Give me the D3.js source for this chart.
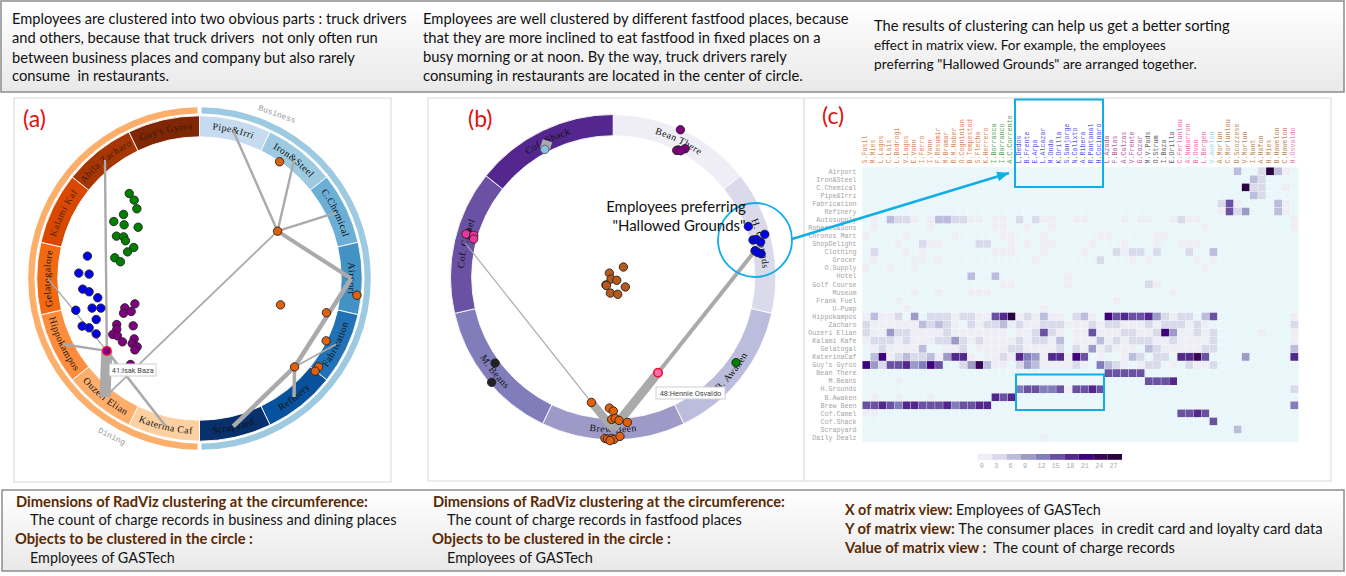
<!DOCTYPE html><html><head><meta charset="utf-8"><script src="https://cdn.jsdelivr.net/npm/d3@7"></script><style>html,body{margin:0;background:#fff}svg{display:block}</style></head><body><svg id="c" width="1346" height="576"></svg><script>
// ---------- data ----------
const businessPlaces=["Pipe&Irri","Iron&Steel","C.Chemical","Airport","Fabrication","Refinery","Scrapyard"];
const diningPlaces=["Katerina Caf","Ouzeri Elian","Hippokampos","Gelatogalore","Kalami Kaf","Abila Zacharo","Guy's Gyros"];
const fastfoodPlaces=["Bean There","H. Grounds","B. Awaken","Brew Been","M. Beans","Cof. Camel","Cof. Shack"];

const aGreen=[[-.496,.6],[-.461,.553],[-.442,.492],[-.536,.452],[-.605,.402],[-.532,.379],[-.433,.362],[-.586,.299],[-.536,.294],[-.522,.266],[-.464,.219],[-.508,.188],[-.598,.146],[-.558,.118]];
const aBlue=[[-.791,.158],[-.852,.038],[-.779,.031],[-.824,-.075],[-.779,-.094],[-.718,-.136],[-.873,-.224],[-.758,-.209],[-.696,-.209],[-.729,-.289],[-.828,-.336],[-.779,-.348],[-.729,-.391]];
const aPurple=[[-.487,-.607],[-.456,-.179],[-.527,-.207],[-.482,-.233],[-.536,-.245],[-.584,-.325],[-.468,-.334],[-.584,-.36],[-.612,-.395],[-.579,-.405],[-.544,-.447],[-.461,-.426],[-.475,-.459],[-.44,-.482],[-.456,-.504]];
const aOrange=[[.565,.824],[.551,.334],[1.111,-.118],[.572,-.186],[.896,-.242],[.894,-.44],[.671,-.624],[.84,-.624],[.816,-.654]];
const aSelected=[-.654,-.511];
const aLinks=[ // from point, to place index on the ring (0-13), weight
 [[.551,.334],0,2.4],[[.551,.334],1,2.4],[[.551,.334],2,2.4],[[.551,.334],3,4],[[.551,.334],8,1.8],
 [[.671,-.624],3,4.5],[[.671,-.624],4,1.8],[[.671,-.624],5,3.5],[[.671,-.624],6,4.5],
 [aSelected,12,2.4],[aSelected,10,1.3],[aSelected,9,2.4],[aSelected,8,11],[aSelected,7,2.6]];

const bPurple=[[.475,1.042],[.461,.899],[.508,.908],[.449,.896],[.477,.894]];
const bSky=[[-.484,.903]];
const bDark=[[-.835,-.607],[-.859,-.743],[-1.025,.31]];
const bPink=[[-1.04,.305],[-.986,.296],[-.986,.27]];
const bBlue=[[.955,.359],[1.071,.303],[.988,.263],[1.012,.267],[1.042,.249],[1.002,.187],[1.045,.166],[1.021,.175]];
const bBrown=[[.072,.072],[-.027,.029],[-.015,-.013],[.025,-.022],[-.051,-.055],[.086,-.069],[-.02,-.112],[.032,-.121],[-.048,-.058]];
const bGreen=[[.868,-.604]];
const bOrange=[[-.154,-.885],[-.027,-.925],[.001,-.946],[-.011,-1.005],[.015,-.998],[.041,-1.012],[.1,-1.026],[-.058,-1.139],[-.041,-1.144],[-.011,-1.139],[.006,-1.146],[-.022,-1.155],[.048,-1.125]];
const bSelected=[.317,-.675];
const bLinks=[[bSelected,1,4],[bSelected,3,9],[[-.154,-.885],5,1.2],[[-.154,-.885],3,8],[[-.484,.903],6,10]];

const colLabels=["S.Fusil","M.Mies","L.Lagos","C.Lais","L.Bodrogi","V.Lagos","E.Vann","I.Ferro","I.Vann","F.Resumir","M.Bramar","R.M.Haber","O.Cogninian","B.Tempestad","S.Flecha","K.Herrero","I.Borrasca","I.Barranco","A.C.Corrente","L.Dedos","B.Frente","E.Arpa","L.Alcazar","M.Onda","K.Orilla","S.Sanjorge","N.Calixto","A.Ribera","R.Pantanal","H.Cocinaro","L.Azada","F.Balas","A.Calzas","V.Frente","G.Cazar","M.V.Pads","O.Strum","I.Baza","E.Orilla","C.Ferlunlau","A.Nubarron","B.Ovan","L.Bergen","V.Awelon","A.Morlun","C.Morlunlau","D.Scozzese","V.Morlun","I.Nant","A.Hafon","H.Mies","B.Hawelon","C.Hawelon","H.Osvaldo"];
const colGroups=[[16,"#e08a55"],[3,"#55a855"],[11,"#5a5af0"],[5,"#b45aa8"],[4,"#666"],[4,"#f070ae"],[1,"#a8d4ea"],[9,"#c48a58"],[1,"#ee7fb8"]];
const rowLabels=["Airport","Iron&Steel","C.Chemical","Pipe&Irri","Fabrication","Refinery","Autosupply","Roberts&Sons","Chronos Mart","ShopDelight","Clothing","Grocer","O.Supply","Hotel","Golf Course","Museum","Frank Fuel","U-Pump","Hippokampos","Zacharo","Ouzeri Elian","Kalami Kafe","Gelatogal","KaterinaCaf","Guy's Gyros","Bean There","M.Beans","H.Grounds","B.Awaken","Brew Been","Cof.Camel","Cof.Shack","Scrapyard","Daily Dealz"];

const denseHippokampos=[1,6,1,1,3,0,9,0,3,3,3,1,3,3,1,1,15,18,27,1,3,1,6,1,1,0,3,6,1,0,21,15,18,15,15,18,9,3,1,3,3,0,6,15,0,0,0,0,0,0,0,0,0,1];
const denseZacharo=[3,1,1,1,1,1,1,6,3,6,3,1,0,3,1,3,3,6,1,3,1,1,3,3,3,1,1,1,3,1,3,3,1,1,1,3,1,3,3,3,1,3,1,0,0,0,0,0,0,0,0,0,0,3];
const denseOuzeri=[3,1,1,9,3,3,1,1,1,1,3,1,1,1,1,1,1,1,0,1,1,3,15,3,1,0,1,1,15,1,1,1,3,3,1,1,3,21,9,1,1,3,1,3,0,0,0,0,0,1,0,0,0,1];
const denseKalami=[1,3,3,3,1,3,1,1,1,3,3,9,3,1,3,1,1,1,1,3,1,3,3,1,6,0,1,1,1,6,1,3,1,3,3,3,1,1,3,1,1,1,1,3,0,0,0,0,0,0,0,0,0,1];
const denseGelato=[0,1,3,1,1,1,1,6,0,0,1,1,3,0,1,1,1,1,3,3,1,1,1,1,3,0,3,1,9,1,3,1,1,1,0,6,3,1,1,1,1,1,3,3,0,0,0,0,0,0,0,0,0,6];
const denseKaterina=[0,6,21,1,3,6,3,3,6,1,9,18,18,1,0,1,1,3,1,18,12,9,1,18,18,1,21,15,0,1,0,0,1,6,3,0,3,3,0,18,18,24,15,0,0,0,0,9,0,0,0,0,0,18];
const denseGuys=[21,9,3,15,15,18,9,12,21,15,0,0,3,9,24,6,1,1,0,3,9,6,1,1,1,1,3,1,0,12,6,3,1,0,1,3,3,0,1,0,3,1,1,3,0,0,0,0,0,0,0,0,0,0];
const denseRows=[[18,denseHippokampos],[19,denseZacharo],[20,denseOuzeri],[21,denseKalami],[22,denseGelato],[23,denseKaterina],[24,denseGuys]];
const sparseRows=[
 [0,[[46,6],[49,3],[50,27],[51,6],[52,1]]],
 [1,[[48,6],[49,3]]],
 [2,[[47,27],[48,3],[49,3],[52,1]]],
 [3,[[48,6],[49,3]]],
 [4,[[44,3],[45,15],[46,1],[51,6],[52,1]]],
 [5,[[44,1],[45,15],[46,3],[47,9],[51,6],[52,1]]],
 [6,[[1,1],[3,6],[4,3],[5,3],[6,1],[8,1],[9,6],[10,6],[11,3],[12,3],[13,1],[14,1],[16,1],[17,1],[19,3],[21,3],[22,1],[23,1],[26,1],[27,1],[32,1],[34,1],[35,1],[38,1],[39,3],[40,1],[41,1],[53,1]]],
 [7,[[1,1],[8,1],[16,1],[17,1],[20,1],[23,1],[42,1],[53,1]]],
 [8,[[0,1],[5,1],[11,1],[17,1],[18,1],[22,1],[29,1],[30,1],[36,1],[37,1]]],
 [9,[[4,1],[7,3],[8,1],[9,1],[14,3],[15,3],[18,1],[20,1],[22,1],[23,1],[28,1],[32,1],[36,1],[39,1],[40,1],[41,1]]],
 [10,[[1,3],[5,1],[7,1],[16,1],[17,1],[18,1],[22,1],[27,1],[31,3],[32,1],[33,3],[34,3],[36,3],[40,3],[43,6]]],
 [11,[[1,1],[6,1],[7,1],[9,1],[21,1],[29,3],[33,1],[35,1],[41,1],[43,1]]],
 [12,[[0,1],[3,1],[6,1],[42,1]]],
 [13,[[13,6],[16,6],[25,1]]],
 [14,[[17,1],[18,1],[25,1],[35,3],[36,1]]],
 [15,[[6,1],[9,1],[13,1],[14,1],[15,1],[38,1]]],
 [16,[[4,1],[31,1]]],
 [17,[[5,1],[22,1]]],
 [25,[[30,15],[31,15],[32,15],[33,15],[34,15]]],
 [26,[[4,1],[35,15],[36,15],[37,15],[38,18]]],
 [27,[[19,12],[20,15],[21,15],[22,12],[23,12],[24,15],[25,1],[26,15],[27,15],[28,18],[29,15],[53,3]]],
 [28,[[1,1],[4,1],[8,1],[16,18],[17,15],[18,18]]],
 [29,[[0,15],[1,15],[2,18],[3,15],[4,12],[5,18],[6,18],[7,15],[8,15],[9,15],[10,18],[11,12],[12,15],[13,15],[14,18],[15,18],[53,12]]],
 [30,[[0,1],[1,1],[39,15],[40,15],[41,18],[42,15]]],
 [31,[[43,15]]],
 [32,[[46,6]]],
 [33,[[22,1]]]];
const legendTicks=[0,3,6,9,12,15,18,21,24,27];
const legendColors=["#efedf5","#dadaeb","#bcbddc","#9e9ac8","#807dba","#6a51a3","#54278f","#3f007d","#3a0558","#2a0440"];

const topNotes=[
 ["Employees are clustered into two obvious parts : truck drivers",12,24,395],
 ["and others, because that truck drivers  not only often run",12,43,366],
 ["between business places and company but also rarely",12,62.5,343],
 ["consume  in restaurants.",12,81,157],
 ["Employees are well clustered by different fastfood places, because",423,23.5,426],
 ["that they are more inclined to eat fastfood in fixed places on a",423,42.5,398],
 ["busy morning or at noon. By the way, truck drivers rarely",423,62,364],
 ["consuming in restaurants are located in the center of circle.",423,81,380],
 ["The results of clustering can help us get a better sorting",874,31,356],
 ["effect in matrix view. For example, the employees",874,50,292],
 ["preferring \"Hallowed Grounds\" are arranged together.",874,69,323]];
const bottomNotes=[
 ["Dimensions of RadViz clustering at the circumference:","",16,506.5,352],
 ["","The count of charge records in business and dining places",30,525,367],
 ["Objects to be clustered in the circle :","",15,544,238],
 ["","Employees of GASTech",30,563,145],
 ["Dimensions of RadViz clustering at the circumference:","",433,506.5,352],
 ["","The count of charge records in fastfood places",447,525,295],
 ["Objects to be clustered in the circle :","",432,544,239],
 ["","Employees of GASTech",447,563,146],
 ["X of matrix view: ","Employees of GASTech",845,515,256],
 ["Y of matrix view: ","The consumer places  in credit card and loyalty card data",845,534,478],
 ["Value of matrix view : "," The count of charge records",845,553,330]];

// ---------- page ----------
const svg=d3.select('#c');
const defs=svg.append('defs');
const grad=defs.append('linearGradient').attr('id','g').attr('x2',0).attr('y2',1);
grad.append('stop').attr('offset',0).attr('stop-color','#fff');
grad.append('stop').attr('offset',1).attr('stop-color','#e9e9e9');
const SANS="Lato,'Open Sans',sans-serif", MONO="'Liberation Mono',monospace", SERIF="'Liberation Serif',serif";
const box=(x,y,w,h,stroke,fill,sw)=>svg.append('rect').attr('x',x).attr('y',y).attr('width',w).attr('height',h).attr('fill',fill).attr('stroke',stroke).attr('stroke-width',sw);
box(1,1,1343,91,'#8c8c8c','url(#g)',1.5);
box(2,490,1342,81,'#8c8c8c','url(#g)',1.5);
box(14,98,377,384,'#e6e6e6','#fff',1.5);
box(428,98,376,383,'#e6e6e6','#fff',1.5);
box(804,98,527,383,'#e6e6e6','#fff',1.5);

function fit(t,w){const base=15;t.attr('font-size',base);const m=t.node().getComputedTextLength();t.attr('font-size',base*w/m);}
topNotes.forEach(([s,x,y,w])=>{fit(svg.append('text').style('white-space','pre').attr('x',x).attr('y',y).attr('font-family',SANS).attr('fill','#111').text(s),w);});
bottomNotes.forEach(([h,s,x,y,w])=>{
 const t=svg.append('text').style('white-space','pre').attr('x',x).attr('y',y).attr('font-family',SANS);
 if(h)t.append('tspan').attr('fill','#5a2a05').attr('font-weight',700).text(h);
 if(s)t.append('tspan').attr('fill','#151515').text(s);
 fit(t,w);
});

// ---------- RadViz ----------
let uid=0;
function radviz(o){
 const {cx,cy,r0,r1,places,colors,pointSets,links}=o;
 const g=svg.append('g').attr('transform',`translate(${cx},${cy})`);
 const px=d3.scaleLinear().domain([-1,1]).range([-r0,r0]);
 const py=d3.scaleLinear().domain([-1,1]).range([r0,-r0]);
 const pie=d3.pie().value(1).sort(null)(places);
 const arc=d3.arc().innerRadius(r0).outerRadius(r1);
 g.selectAll('path.seg').data(pie).join('path').attr('class','seg').attr('d',arc).attr('fill',(d,i)=>colors[i]).attr('stroke','#fff').attr('stroke-width',.9);
 pie.forEach((d,i)=>{
  const mid=(d.startAngle+d.endAngle)/2, flip=mid>Math.PI/2+.01&&mid<3*Math.PI/2-.01, id='seg'+(uid++);
  const rr=flip?(r0+r1)/2+3.2:(r0+r1)/2-2.8;
  const P=d3.path();
  if(!flip)P.arc(0,0,rr,d.startAngle-Math.PI/2,d.endAngle-Math.PI/2,false);
  else P.arc(0,0,rr,d.endAngle-Math.PI/2,d.startAngle-Math.PI/2,true);
  defs.append('path').attr('id',id).attr('d',P.toString());
  g.append('text').attr('font-family',SERIF).attr('font-size',9.8).attr('letter-spacing',.45).attr('fill','#111').attr('fill-opacity',i>=o.dimFrom?.72:1).attr('text-anchor','middle')
   .append('textPath').attr('href','#'+id).attr('startOffset','50%').text(d.data);
 });
 const aR=1.07*r0;
 const anchor=i=>{const m=(pie[i].startAngle+pie[i].endAngle)/2;return [Math.sin(m)*aR,-Math.cos(m)*aR];};
 g.selectAll('line.lk').data(links).join('line').attr('class','lk')
  .attr('x1',d=>px(d[0][0])).attr('y1',d=>py(d[0][1]))
  .attr('x2',d=>anchor(d[1])[0]).attr('y2',d=>anchor(d[1])[1])
  .attr('stroke','#aaa').attr('stroke-width',d=>d[2]);
 pointSets.forEach(([pts,fill,stroke,sw])=>{
  g.selectAll(null).data(pts).join('circle').attr('cx',d=>px(d[0])).attr('cy',d=>py(d[1])).attr('r',4.2)
   .attr('fill',fill).attr('stroke',stroke||'#222').attr('stroke-width',sw||.9);
 });
 return {g,px,py};
}
const A=radviz({cx:199.5,cy:278.5,r0:141.7,r1:162.7,places:businessPlaces.concat(diningPlaces),
 colors:["#c6dbef","#9ecae1","#6baed6","#4292c6","#2171b5","#08519c","#08306b","#fdd0a2","#fdae6b","#fd8d3c","#f16913","#d94801","#a63603","#7f2704"],
 dimFrom:11,
 pointSets:[[aPurple,'#800080'],[aGreen,'#008000'],[aBlue,'#0000ee'],[aOrange,'#e0600b'],[[aSelected],'#800080','#ee1133',1.6]],links:aLinks});
const ringA=d3.arc().innerRadius(165).outerRadius(171.3);
A.g.append('path').attr('d',ringA({startAngle:.012,endAngle:Math.PI-.012})).attr('fill','#9ecae1');
A.g.append('path').attr('d',ringA({startAngle:Math.PI+.012,endAngle:2*Math.PI-.012})).attr('fill','#fdae6b');
[['Business',77.5,-164,20],['Dining',-87.8,158.2,27]].forEach(([s,x,y,a])=>A.g.append('text').attr('font-family',MONO).attr('font-size',8.2).attr('fill','#999').attr('text-anchor','middle').attr('dominant-baseline','middle')
 .attr('transform',`translate(${x},${y}) rotate(${a})`).text(s));

const B=radviz({cx:613.2,cy:277.2,r0:141.5,r1:162.7,places:fastfoodPlaces,
 colors:["#efedf5","#dadaeb","#bcbddc","#9e9ac8","#807dba","#6a51a3","#54278f"],dimFrom:9,
 pointSets:[[bPurple,'#800080'],[bSky,'#87c3e8','#555'],[bDark,'#222'],[bPink,'#f0359a'],[bBrown,'#b5591f'],[bGreen,'#008000'],[bOrange,'#e0600b'],[bBlue,'#0000ee'],[[bSelected],'#ff6ea8','#ee1133',1.6]],links:bLinks});

function tooltip(x,y,w,h,s){
 box(x,y,w,h,'#cfcfcf','#fff',1);
 svg.append('text').attr('x',x+w/2).attr('y',y+h/2+2.8).attr('text-anchor','middle').attr('font-family',"Roboto,sans-serif").attr('font-size',7.4).attr('fill','#444').text(s);
}
tooltip(109.5,364,46.5,12,'41:Isak Baza');
tooltip(656,387,69,12,'48:Hennie Osvaldo');

// ---------- matrix ----------
const mx=d3.scaleBand().domain(d3.range(colLabels.length)).range([862.3,1298.3]);
const my=d3.scaleBand().domain(d3.range(rowLabels.length)).range([167.3,441.7]);
const colorOf=d3.scaleThreshold().domain(legendTicks.slice(1)).range(legendColors);
const M=svg.append('g');
const cells=new Map();
sparseRows.forEach(([r,l])=>l.forEach(([c,v])=>cells.set(r+'_'+c,v)));
denseRows.forEach(([r,l])=>l.forEach((v,c)=>{if(v)cells.set(r+'_'+c,v)}));
const grid=d3.cross(d3.range(rowLabels.length),d3.range(colLabels.length));
M.selectAll('rect.cell').data(grid).join('rect').attr('class','cell')
 .attr('x',d=>mx(d[1])).attr('y',d=>my(d[0])).attr('width',mx.bandwidth()).attr('height',my.bandwidth())
 .attr('fill',d=>{const v=cells.get(d[0]+'_'+d[1]);return v?colorOf(v):'#e9f7fb';}).attr('stroke','#eef9fc').attr('stroke-width',.25);
M.selectAll('text.row').data(rowLabels).join('text').attr('class','row').attr('x',856.5).attr('y',(d,i)=>my(i)+my.bandwidth()/2+2.2)
 .attr('text-anchor','end').attr('font-family',MONO).attr('font-size',6.7).attr('fill','#a5a5a5').text(d=>d);
const groupColor=[];colGroups.forEach(([n,c])=>{for(let i=0;i<n;i++)groupColor.push(c)});
M.selectAll('text.col').data(colLabels).join('text').attr('class','col')
 .attr('transform',(d,i)=>`translate(${mx(i)+mx.bandwidth()/2+.8},163.5) rotate(-90)`)
 .attr('font-family',MONO).attr('font-size',6.7).attr('fill',(d,i)=>groupColor[i]).text(d=>d);
// legend
const lx=d3.scaleBand().domain(legendTicks).range([977.7,1122]);
M.selectAll('rect.lg').data(legendTicks).join('rect').attr('class','lg').attr('x',d=>lx(d)).attr('y',454).attr('width',lx.bandwidth()).attr('height',5.8).attr('fill',d=>colorOf(d));
M.selectAll('text.lg').data(legendTicks).join('text').attr('class','lg').attr('x',d=>lx(d)+2).attr('y',468).attr('font-family',MONO).attr('font-size',6.7).attr('fill','#aaa').text(d=>d);

// ---------- annotations ----------
const CY='#10aee4';
const ann=svg.append('g');
ann.append('circle').attr('cx',755).attr('cy',240).attr('r',37).attr('fill','none').attr('stroke',CY).attr('stroke-width',1.8);
ann.append('rect').attr('x',1015).attr('y',99.5).attr('width',88).attr('height',87.5).attr('fill','none').attr('stroke',CY).attr('stroke-width',2);
ann.append('rect').attr('x',1016).attr('y',374.5).attr('width',88).attr('height',35.5).attr('fill','none').attr('stroke',CY).attr('stroke-width',2);
defs.append('marker').attr('id','ah').attr('markerUnits','userSpaceOnUse').attr('markerWidth',14).attr('markerHeight',12).attr('refX',12).attr('refY',5).attr('orient','auto')
 .append('path').attr('d','M0,0L12,5L0,10Z').attr('fill',CY);
ann.append('line').attr('x1',792).attr('y1',239).attr('x2',1009).attr('y2',173).attr('stroke',CY).attr('stroke-width',2.4).attr('marker-end','url(#ah)');
[['Employees preferring',676,212],['"Hallowed Grounds"',679,231]].forEach(([s,x,y])=>ann.append('text').attr('x',x).attr('y',y).attr('text-anchor','middle').attr('font-family',SANS).attr('font-size',15).attr('fill','#111').text(s));
[['(a)',23,127],['(b)',468,127],['(c)',822,124]].forEach(([s,x,y])=>ann.append('text').attr('x',x).attr('y',y).attr('font-family',SANS).attr('font-size',23).attr('fill','#e01010').text(s));
</script></body></html>
